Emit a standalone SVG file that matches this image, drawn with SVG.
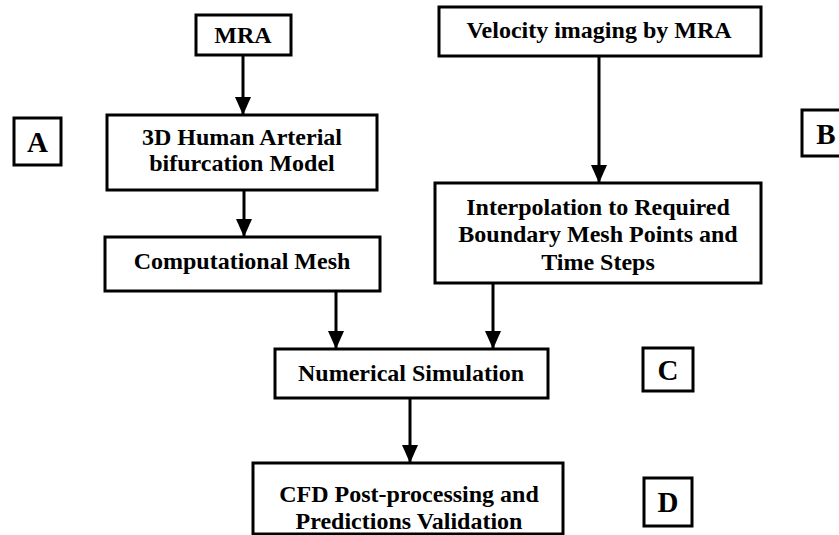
<svg xmlns="http://www.w3.org/2000/svg" width="839" height="535" viewBox="0 0 839 535">
  <style>
    .box { fill: #fff; stroke: #000; stroke-width: 3; }
    .tag { fill: #fff; stroke: #000; stroke-width: 3; }
    .lbl { font-family: "Liberation Serif", "Times New Roman", serif; font-weight: bold; font-size: 24px; fill: #000; text-anchor: middle; }
    .tagtxt { font-family: "Liberation Serif", "Times New Roman", serif; font-weight: bold; font-size: 29px; fill: #000; text-anchor: middle; }
    .edge { stroke: #000; stroke-width: 3; fill: none; marker-end: url(#head); }
  </style>
  <defs>
    <marker id="head" viewBox="0 0 18 16" markerWidth="18" markerHeight="16" refX="18" refY="8" orient="auto" markerUnits="userSpaceOnUse">
      <path d="M0,0 L18,8 L0,16 Z" fill="#000"/>
    </marker>
  </defs>
  <rect width="839" height="535" fill="#fff"/>

  <g id="connectors">
    <line class="edge" x1="243" y1="55" x2="243" y2="115"/>
    <line class="edge" x1="244" y1="190" x2="244" y2="237"/>
    <line class="edge" x1="599" y1="56" x2="599" y2="183"/>
    <line class="edge" x1="336" y1="291" x2="336" y2="349"/>
    <line class="edge" x1="493" y1="283" x2="493" y2="349"/>
    <line class="edge" x1="410" y1="398" x2="410" y2="463"/>
  </g>

  <g id="mra">
    <rect class="box" x="196" y="15" width="95" height="40"/>
    <text class="lbl" x="243" y="43">MRA</text>
  </g>

  <g id="velocity">
    <rect class="box" x="439" y="7" width="322" height="49"/>
    <text class="lbl" x="599" y="38">Velocity imaging by MRA</text>
  </g>

  <g id="tag-a">
    <rect class="tag" x="14" y="118" width="47" height="47"/>
    <text class="tagtxt" x="37.5" y="152">A</text>
  </g>

  <g id="tag-b">
    <rect class="tag" x="802" y="110" width="50" height="46"/>
    <text class="tagtxt" x="826" y="144">B</text>
  </g>

  <g id="model">
    <rect class="box" x="107" y="115" width="270" height="75"/>
    <text class="lbl" x="242" y="145">3D Human Arterial</text>
    <text class="lbl" x="242" y="171">bifurcation Model</text>
  </g>

  <g id="mesh">
    <rect class="box" x="105" y="237" width="275" height="54"/>
    <text class="lbl" x="242" y="269">Computational Mesh</text>
  </g>

  <g id="interpolation">
    <rect class="box" x="435" y="183" width="326" height="100"/>
    <text class="lbl" x="598" y="215">Interpolation to Required</text>
    <text class="lbl" x="598" y="242">Boundary Mesh Points and</text>
    <text class="lbl" x="598" y="270">Time Steps</text>
  </g>

  <g id="simulation">
    <rect class="box" x="275" y="349" width="273" height="49"/>
    <text class="lbl" x="411" y="381">Numerical Simulation</text>
  </g>

  <g id="tag-c">
    <rect class="tag" x="643" y="348" width="50" height="43"/>
    <text class="tagtxt" x="668" y="380">C</text>
  </g>

  <g id="postprocessing">
    <rect class="box" x="253" y="463" width="310" height="71"/>
    <text class="lbl" x="409" y="502">CFD Post-processing and</text>
    <text class="lbl" x="409" y="529">Predictions Validation</text>
  </g>

  <g id="tag-d">
    <rect class="tag" x="644" y="478" width="48" height="48"/>
    <text class="tagtxt" x="668" y="512">D</text>
  </g>
</svg>
